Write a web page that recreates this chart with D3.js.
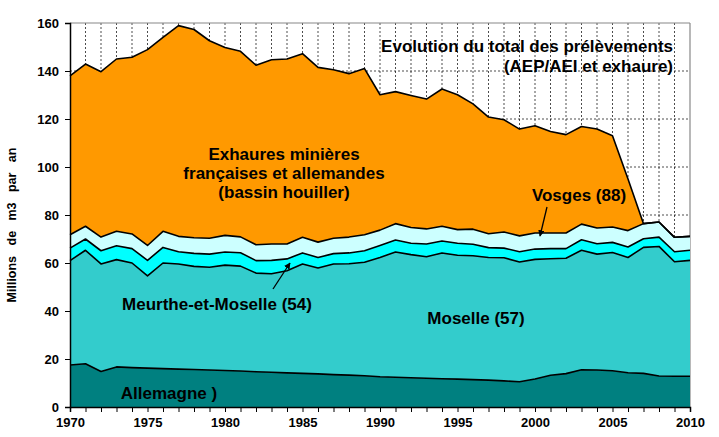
<!DOCTYPE html>
<html><head><meta charset="utf-8">
<script src="https://cdn.jsdelivr.net/npm/d3@7"></script>
<style>
body{margin:0;background:#fff;}
svg text{font-family:"Liberation Sans",Arial,sans-serif;font-weight:bold;}
</style></head>
<body><svg id="c" width="719" height="437"></svg>
<script>
const years = d3.range(1970, 2011);
const allemagne = [17.5,18.0,14.8,16.7,16.4,16.2,16.0,15.8,15.6,15.4,15.2,15.0,14.7,14.5,14.2,14.0,13.8,13.5,13.3,13.0,12.6,12.4,12.2,12.0,11.8,11.6,11.4,11.2,10.9,10.5,11.7,13.2,13.9,15.5,15.4,15.1,14.3,14.0,12.9,12.8,12.8];
const moselle = [43.5,47.3,44.8,44.7,43.6,38.4,44.0,43.8,43.0,42.8,43.9,43.7,41.1,41.0,42.6,45.6,44.1,46.1,46.4,47.3,49.7,52.2,51.3,50.6,52.4,51.6,51.6,51.1,51.3,49.9,49.8,48.6,48.1,49.8,48.3,49.3,48.0,52.5,54.0,47.7,48.3];
const meurthe = [5.2,4.7,5.5,5.8,6.0,6.5,6.5,5.1,5.4,5.5,5.5,5.6,5.2,5.6,4.9,4.6,4.4,4.3,4.5,4.8,5.0,5.0,4.7,5.3,5.0,5.0,4.8,4.1,4.0,4.3,4.3,4.2,4.0,4.4,4.3,4.2,4.4,3.6,3.9,4.2,4.2];
const vosges = [5.6,5.3,5.7,6.0,6.1,6.2,6.7,6.4,6.5,6.6,6.9,6.6,6.6,6.8,6.2,6.5,6.4,6.4,6.6,6.7,6.4,6.8,6.6,6.3,6.1,5.7,6.3,5.8,6.7,6.6,6.7,6.5,6.5,6.5,6.6,6.4,6.8,6.3,6.3,6.0,5.8];
const exhaure = [66.2,67.6,68.9,71.8,73.6,81.6,80.8,87.8,86.8,82.3,78.3,77.3,74.8,76.8,77.1,76.5,72.8,70.2,68.1,69.2,56.4,55.0,55.0,54.1,57.2,56.2,52.2,48.6,46.8,44.5,44.7,42.3,41.0,40.7,41.2,38.0,21.5,0,0,0,0];
const seriesKeys = ["allemagne","moselle","meurthe","vosges","exhaure"];
const seriesColors = ["#008080","#33CCCC","#00FFFF","#CCFFFF","#FF9900"];
const yTicks = [0,20,40,60,80,100,120,140,160];
const xTickLabels = [1970,1975,1980,1985,1990,1995,2000,2005,2010];

const data = years.map((y,i)=>({year:y,allemagne:allemagne[i],moselle:moselle[i],meurthe:meurthe[i],vosges:vosges[i],exhaure:exhaure[i]}));

const svg = d3.select("#c");
const L=70, R=690, T=23, B=407;
const x = d3.scaleLinear().domain([1970,2010]).range([L,R]);
const y = d3.scaleLinear().domain([0,160]).range([B,T]);

// grid
const g = svg.append("g");
g.selectAll(".vg").data(years.slice(1,-1)).join("line")
  .attr("x1",d=>x(d)).attr("x2",d=>x(d)).attr("y1",T).attr("y2",B)
  .attr("stroke","#000").attr("stroke-width",0.7).attr("stroke-dasharray","2,2");
g.selectAll(".hg").data(yTicks.slice(1,-1)).join("line")
  .attr("x1",L).attr("x2",R).attr("y1",d=>y(d)).attr("y2",d=>y(d))
  .attr("stroke","#000").attr("stroke-width",0.7).attr("stroke-dasharray","2,2");
svg.append("line").attr("x1",L).attr("x2",R).attr("y1",T).attr("y2",T).attr("stroke","#888").attr("stroke-width",1.2);
svg.append("line").attr("x1",R).attr("x2",R).attr("y1",T).attr("y2",B).attr("stroke","#888").attr("stroke-width",1.2);

const stack = d3.stack().keys(seriesKeys)(data);
const area = d3.area().x(d=>x(d.data.year)).y0(d=>y(d[0])).y1(d=>y(d[1]));
const line = d3.line().x(d=>x(d.data.year)).y(d=>y(d[1]));
svg.append("g").selectAll("path").data(stack).join("path")
  .attr("d",area).attr("fill",(d,i)=>seriesColors[i]);
svg.append("g").selectAll("path").data(stack).join("path")
  .attr("d",line).attr("fill","none").attr("stroke","#000").attr("stroke-width",1.6).attr("stroke-linejoin","round");

// axes
const xAxis = d3.axisBottom(x).tickValues(years).tickSize(5).tickFormat(d=>xTickLabels.includes(d)?d:"");
const ax = svg.append("g").attr("transform",`translate(0,${B})`).call(xAxis);
ax.select(".domain").attr("stroke","#000").attr("stroke-width",1.5);
ax.selectAll(".tick line").attr("stroke","#000");
ax.selectAll("text").attr("font-size",13).attr("fill","#000").attr("dy","0.95em");
const yAxis = d3.axisLeft(y).tickValues(yTicks).tickSize(5).tickPadding(6);
const ay = svg.append("g").attr("transform",`translate(${L},0)`).call(yAxis);
ay.select(".domain").attr("stroke","#000").attr("stroke-width",1.5);
ay.selectAll(".tick line").attr("stroke","#000");
ay.selectAll("text").attr("font-size",13).attr("fill","#000");

svg.append("text").attr("transform","translate(16,225) rotate(-90)").attr("text-anchor","middle")
  .attr("font-size",12.5).attr("xml:space","preserve").style("white-space","pre").text("Millions   de   m3   par   an");

function label(txt,xx,yy,anchor){
  svg.append("text").attr("x",xx).attr("y",yy).attr("text-anchor",anchor||"middle").attr("font-size",17).attr("fill","#000").text(txt);
}
label("Evolution du total des prélèvements",673,52,"end");
label("(AEP/AEI et exhaure)",673,72,"end");
label("Exhaures minières",284,160);
label("françaises et allemandes",284,179);
label("(bassin houiller)",284,198);
label("Vosges (88)",579,201);
label("Meurthe-et-Moselle (54)",217,310);
label("Moselle (57)",476,324);
label("Allemagne )",169,399);

// arrows
const defs = svg.append("defs");
defs.append("marker").attr("id","ah").attr("viewBox","0 0 10 10").attr("refX",9).attr("refY",5)
  .attr("markerWidth",5).attr("markerHeight",5).attr("orient","auto")
  .append("path").attr("d","M0,0L10,5L0,10z").attr("fill","#000");
svg.append("line").attr("x1",547).attr("y1",207).attr("x2",540).attr("y2",236).attr("stroke","#000").attr("stroke-width",1.3).attr("marker-end","url(#ah)");
svg.append("line").attr("x1",273).attr("y1",289).attr("x2",290).attr("y2",263).attr("stroke","#000").attr("stroke-width",1.3).attr("marker-end","url(#ah)");
</script></body></html>
